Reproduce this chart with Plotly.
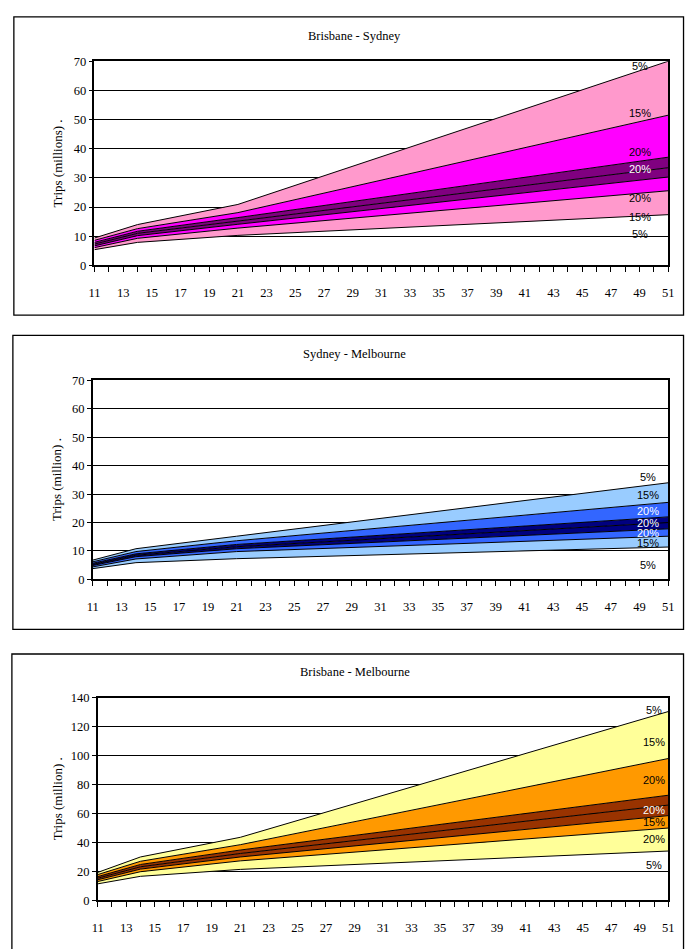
import plotly.graph_objects as go

W, H = 691, 949

years = [11, 14, 21, 51]

# Brisbane - Sydney (lines from top to bottom)
bs_lines = [
    [9.4, 14.0, 20.9, 70.0],
    [8.6, 12.6, 18.1, 51.5],
    [7.9, 11.7, 16.4, 37.1],
    [7.3, 11.0, 15.2, 33.5],
    [6.7, 10.2, 14.1, 30.3],
    [6.1, 9.3, 12.8, 25.6],
    [5.4, 7.9, 10.3, 17.4],
]
# Sydney - Melbourne
sm_lines = [
    [6.8, 10.8, 15.2, 34.0],
    [6.2, 9.8, 13.6, 27.1],
    [5.7, 9.0, 12.3, 22.0],
    [5.3, 8.5, 11.5, 20.0],
    [4.9, 8.0, 10.8, 17.8],
    [4.4, 7.2, 9.8, 15.2],
    [3.8, 5.9, 7.3, 11.4],
]
# Brisbane - Melbourne
bm_lines = [
    [19.3, 30.0, 43.6, 130.6],
    [17.8, 27.0, 38.5, 98.1],
    [16.4, 24.8, 34.8, 72.7],
    [15.3, 23.2, 32.4, 65.9],
    [14.2, 21.6, 30.0, 58.6],
    [13.0, 19.8, 27.3, 50.0],
    [11.4, 16.6, 21.4, 34.1],
]

band_labels = ["5%", "15%", "20%", "20%", "20%", "15%", "5%"]
bs_label_y = [68.2, 52.2, 39.0, 32.9, 23.1, 16.7, 10.6]
sm_label_y = [35.9, 29.8, 24.0, 20.0, 16.5, 12.8, 5.2]
bm_label_y = [131.8, 109.5, 82.9, 62.5, 54.5, 42.7, 24.5]
bm_band_labels = ["5%", "15%", "20%", "20%", "15%", "20%", "5%"]

titles = ["Brisbane - Sydney", "Sydney - Melbourne", "Brisbane - Melbourne"]
ytitles = ["Trips (millions) .", "Trips (million) .", "Trips (million) ."]

charts = [
    dict(lines=bs_lines, labels=band_labels, label_y=bs_label_y, label_x=49.0,
         label_colors=["black", "black", "black", "white", "black", "black", "black"],
         colors=["#FF99CC", "#FF00FF", "#800080"], ymax=70, dtick=10,
         box=(8, 10, 689.5, 312.7), plot=(90, 55, 674, 262.3), title_y=29),
    dict(lines=sm_lines, labels=band_labels, label_y=sm_label_y, label_x=49.6,
         label_colors=["black", "black", "white", "white", "white", "black", "black"],
         colors=["#99CCFF", "#3366FF", "#000080"], ymax=70, dtick=10,
         box=(7, 333.3, 689.5, 631.7), plot=(88.3, 379, 674, 581), title_y=352),
    dict(lines=bm_lines, labels=bm_band_labels, label_y=bm_label_y, label_x=50.0,
         label_colors=["black", "black", "black", "white", "black", "black", "black"],
         colors=["#FFFF99", "#FF9900", "#993300"], ymax=140, dtick=20,
         box=(6, 656.7, 689.5, 990), plot=(93.3, 701.3, 674, 906.7), title_y=675),
]

fig = go.Figure()
shapes = []
annotations = []
layout = {}

for i, c in enumerate(charts):
    n = "" if i == 0 else str(i + 1)
    xa, ya = "x" + n, "y" + n
    lines = c["lines"]
    col = c["colors"]
    band_cols = [col[0], col[1], col[2], col[2], col[1], col[0]]
    bottom_up = lines[::-1]
    for k, vals in enumerate(bottom_up):
        fig.add_trace(go.Scatter(
            x=years, y=vals, mode="lines", xaxis=xa, yaxis=ya,
            line=dict(color="black", width=1),
            fill=None if k == 0 else "tonexty",
            fillcolor=None if k == 0 else band_cols[k - 1],
            showlegend=False, hoverinfo="skip"))
    px0, py0, px1, py1 = c["plot"]
    layout["xaxis" + n] = dict(
        domain=[px0 / W, px1 / W], anchor=ya, range=[11, 51],
        tick0=11, dtick=2, ticks="outside", ticklen=5, tickwidth=1, tickcolor="black",
        minor=dict(dtick=1, tick0=11, ticks="outside", ticklen=5, tickwidth=1, tickcolor="black", showgrid=False),
        showline=True, linecolor="black", linewidth=1.5, mirror=True,
        showgrid=False, zeroline=False, ticklabelstandoff=10,
        tickfont=dict(family="Liberation Serif", size=12.5, color="black"))
    layout["yaxis" + n] = dict(
        domain=[1 - py1 / H, 1 - py0 / H], anchor=xa, range=[0, c["ymax"]],
        dtick=c["dtick"], ticks="outside", ticklen=4, tickcolor="black",
        showline=True, linecolor="black", linewidth=1.5, mirror=True,
        showgrid=True, gridcolor="black", gridwidth=1, zeroline=False,
        tickfont=dict(family="Liberation Serif", size=12.5, color="black"))
    bx0, by0, bx1, by1 = c["box"]
    shapes.append(dict(type="rect", xref="paper", yref="paper",
                       x0=bx0 / W, x1=bx1 / W, y0=1 - by1 / H, y1=1 - by0 / H,
                       line=dict(color="black", width=1.3), layer="below"))
    annotations.append(dict(text=titles[i], xref="paper", yref="paper",
                            x=355 / W, y=1 - c["title_y"] / H, showarrow=False,
                            xanchor="center", yanchor="middle",
                            font=dict(family="Liberation Serif", size=12.5, color="black")))
    annotations.append(dict(text=ytitles[i], xref="paper", yref="paper",
                            x=52 / W, y=1 - ((py0 + py1) / 2) / H, showarrow=False,
                            textangle=-90, xanchor="center", yanchor="middle",
                            font=dict(family="Liberation Serif", size=13, color="black")))
    for lab, ly, lc in zip(c["labels"], c["label_y"], c["label_colors"]):
        annotations.append(dict(text=lab, xref=xa, yref=ya, x=c["label_x"], y=ly,
                                showarrow=False, xanchor="center", yanchor="middle",
                                font=dict(family="Liberation Sans", size=11, color=lc)))

fig.update_layout(
    autosize=True,
    margin=dict(l=0, r=0, t=0, b=0),
    paper_bgcolor="white", plot_bgcolor="white",
    shapes=shapes, annotations=annotations, **layout)

post = ("document.documentElement.style.margin='0';document.documentElement.style.padding='0';"
        "document.body.style.margin='0';document.body.style.padding='0';"
        "var d=document.getElementById('{plot_id}');if(d){d.style.margin='0';}")
fig.write_html("out.html", config={"displayModeBar": False},
               default_width="%dpx; margin:-8px" % W,
               default_height="%dpx" % H,
               post_script=post)
